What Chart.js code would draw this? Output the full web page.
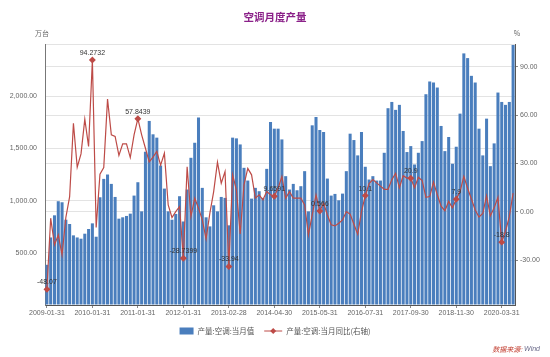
<!DOCTYPE html>
<html>
<head>
<meta charset="utf-8">
<script src="https://cdn.jsdelivr.net/npm/chart.js@4/dist/chart.umd.min.js"></script>
<style>
html,body{margin:0;padding:0;background:#fff;}
#wrap{width:550px;height:357px;position:relative;}
</style>
</head>
<body>
<div id="wrap"><canvas id="c" width="550" height="357"></canvas></div>
<script>
// ---------------- DATA ----------------
const categories = [
 '2009-01-31','2009-02-28','2009-03-31','2009-04-30','2009-05-31','2009-06-30','2009-07-31','2009-08-31','2009-09-30','2009-10-31','2009-11-30','2009-12-31',
 '2010-01-31','2010-02-28','2010-03-31','2010-04-30','2010-05-31','2010-06-30','2010-07-31','2010-08-31','2010-09-30','2010-10-31','2010-11-30','2010-12-31',
 '2011-01-31','2011-02-28','2011-03-31','2011-04-30','2011-05-31','2011-06-30','2011-07-31','2011-08-31','2011-09-30','2011-10-31','2011-11-30','2011-12-31',
 '2012-01-31','2012-02-29','2012-03-31','2012-04-30','2012-05-31','2012-06-30','2012-07-31','2012-08-31','2012-09-30','2012-10-31','2012-11-30','2012-12-31',
 '2013-02-28','2013-03-31','2013-04-30','2013-05-31','2013-06-30','2013-07-31','2013-08-31','2013-09-30','2013-10-31','2013-11-30','2013-12-31',
 '2014-03-31','2014-04-30','2014-05-31','2014-06-30','2014-07-31','2014-08-31','2014-09-30','2014-10-31','2014-11-30','2014-12-31',
 '2015-02-28','2015-03-31','2015-04-30','2015-05-31','2015-06-30','2015-07-31','2015-08-31','2015-09-30','2015-10-31','2015-11-30','2015-12-31',
 '2016-03-31','2016-04-30','2016-05-31','2016-06-30','2016-07-31','2016-08-31','2016-09-30','2016-10-31','2016-11-30','2016-12-31',
 '2017-03-31','2017-04-30','2017-05-31','2017-06-30','2017-07-31','2017-08-31','2017-09-30','2017-10-31','2017-11-30','2017-12-31',
 '2018-03-31','2018-04-30','2018-05-31','2018-06-30','2018-07-31','2018-08-31','2018-09-30','2018-10-31','2018-11-30','2018-12-31',
 '2019-03-31','2019-04-30','2019-05-31','2019-06-30','2019-07-31','2019-08-31','2019-09-30','2019-10-31','2019-11-30','2019-12-31',
 '2020-03-31','2020-04-30','2020-05-31','2020-06-30'
];

const tickLabels = ['2009-01-31','2010-01-31','2011-01-31','2012-01-31','2013-02-28','2014-04-30',
                    '2015-05-31','2016-07-31','2017-09-30','2018-11-30','2020-03-31'];

// 产量:空调:当月值 (万台)
const monthlyOutput = [
 385,647,859,994,984,817,776,667,647,635,683,728,
 782,654,1032,1208,1250,1160,1035,827,840,853,875,1048,
 1176,897,1468,1763,1635,1603,1336,1115,897,817,872,1042,
 800,1106,1410,1554,1795,1122,840,753,955,897,1035,1026,
 763,1603,1596,1538,1314,1192,1019,1122,1090,1026,1304,
 1753,1689,1689,1586,1234,1106,1160,1099,1138,1282,
 897,1721,1801,1676,1657,1211,1048,1064,1003,1067,1282,
 1641,1580,1433,1657,1324,1202,1234,1192,1192,1458,
 1885,1945,1869,1917,1667,1465,1522,1346,1458,1570,
 2019,2141,2131,2083,1715,1474,1609,1353,1516,1833,
 2410,2365,2195,2131,1689,1433,1785,1330,1548,2035,
 1945,1917,1945,2490
];

// 产量:空调:当月同比 (%)
const yoyChange = [
 -48.07,-3.9,-20.5,-14.3,-26.7,-3.5,9.5,55,27.7,36,57.5,40.6,
 94.2732,-9.7,23.4,27.5,70,47.8,46.8,35,42.2,42.2,33.7,47.8,
 57.8439,47.8,39.5,31,34,37.5,29,36.4,4.3,-3.5,0.2,3.3,
 -28.7399,28,-2.9,8.5,2.3,-5,-16.8,-0.8,12.6,30.8,17.8,25,
 -33.94,23,13.5,-13.7,16.8,27,23,8.5,10.6,7.5,12.6,
 10.6,9.6591,14.7,22,8.5,12.6,8.5,8.5,8.5,4.3,
 -14.3,-1.9,10.6,0.566,5.4,-1.9,-8,-8.7,-7,-5,0.2,
 -1.4,-7.7,-13.9,0.2,10.1,17.5,20,18,16,14,
 14,20,24,15,22.5,21,20.9,15,21.5,19.5,
 9,9.5,18.5,10.6,3.5,0.7,6.5,2.5,7.9,12.6,
 22,14.7,8,1.2,-3.2,-1,10,-2.5,2.5,9,
 -18.8,-12,-3,11.6
];

const leftTicks = [0, 500, 1000, 1500, 2000, 2500];
const rightTicks = [-30, 0, 30, 60, 90];

const seriesNames = ['产量:空调:当月值', '产量:空调:当月同比(右轴)'];
const chartTitle = '空调月度产量';

// ---------------- STYLE ----------------
const BAR_COLOR = '#4A7EBD';
const LINE_COLOR = '#BD4B47';
const GRID = '#E3E3E3';
const TXT = '#666666';
const FONT = '"Liberation Sans","Noto Sans CJK SC",sans-serif';
const CJK = '"Noto Sans CJK SC","Liberation Sans",sans-serif';

const isTick = i => tickLabels.includes(categories[i]);

const decorPlugin = {
  id: 'decor',
  afterDatasetsDraw(chart) {
    const ctx = chart.ctx;
    const meta = chart.getDatasetMeta(1);
    ctx.save();
    ctx.font = '7px ' + FONT;
    ctx.fillStyle = '#333';
    ctx.textAlign = 'center';
    ctx.textBaseline = 'middle';
    meta.data.forEach((pt, i) => {
      if (!isTick(i)) return;
      ctx.fillText(String(yoyChange[i]), pt.x, pt.y - 7);
    });
    ctx.restore();
  },
  afterDraw(chart) {
    const ctx = chart.ctx;
    const ca = chart.chartArea;
    ctx.save();
    // title
    ctx.font = 'bold 10.5px ' + CJK;
    ctx.fillStyle = '#8B2189';
    ctx.textAlign = 'center';
    ctx.textBaseline = 'middle';
    ctx.fillText(chartTitle, 275, 17);
    // units
    ctx.font = '7px ' + CJK;
    ctx.fillStyle = TXT;
    ctx.fillText('万台', ca.left - 3, 33);
    ctx.fillText('%', ca.right + 2, 33);
    // legend
    const y = 331;
    ctx.font = '7.5px ' + CJK;
    const w1 = ctx.measureText(seriesNames[0]).width;
    const w2 = ctx.measureText(seriesNames[1]).width;
    const total = 14 + 4 + w1 + 10 + 18 + 4 + w2;
    let x = 275 - total / 2;
    ctx.fillStyle = BAR_COLOR;
    ctx.fillRect(x, y - 3.5, 14, 7);
    x += 18;
    ctx.fillStyle = '#555';
    ctx.textAlign = 'left';
    ctx.fillText(seriesNames[0], x, y);
    x += w1 + 10;
    ctx.strokeStyle = LINE_COLOR;
    ctx.lineWidth = 1;
    ctx.beginPath(); ctx.moveTo(x, y); ctx.lineTo(x + 18, y); ctx.stroke();
    ctx.fillStyle = LINE_COLOR;
    ctx.beginPath();
    ctx.moveTo(x + 9, y - 3); ctx.lineTo(x + 12, y); ctx.lineTo(x + 9, y + 3); ctx.lineTo(x + 6, y);
    ctx.closePath(); ctx.fill();
    x += 22;
    ctx.fillStyle = '#555';
    ctx.fillText(seriesNames[1], x, y);
    // source
    ctx.textAlign = 'right';
    ctx.font = 'italic 7px ' + FONT;
    const wWind = ctx.measureText('Wind').width;
    ctx.fillStyle = '#6B6B8A';
    ctx.fillText('Wind', 540, 349);
    ctx.font = 'italic 7px ' + CJK;
    ctx.fillStyle = '#C0392B';
    ctx.fillText('数据来源:', 540 - wWind - 2, 349);
    ctx.restore();
  }
};

new Chart(document.getElementById('c'), {
  type: 'bar',
  data: {
    labels: categories,
    datasets: [
      {
        type: 'bar',
        label: seriesNames[0],
        data: monthlyOutput,
        yAxisID: 'yL',
        backgroundColor: BAR_COLOR,
        borderWidth: 0,
        barPercentage: 0.8,
        categoryPercentage: 1.0,
        order: 2
      },
      {
        type: 'line',
        label: seriesNames[1],
        data: yoyChange,
        yAxisID: 'yR',
        borderColor: LINE_COLOR,
        backgroundColor: LINE_COLOR,
        borderWidth: 1.2,
        tension: 0,
        pointStyle: 'rectRot',
        pointRadius: ctx => isTick(ctx.dataIndex) ? 2.6 : 0,
        pointHoverRadius: 0,
        order: 1
      }
    ]
  },
  options: {
    responsive: false,
    devicePixelRatio: 1,
    animation: false,
    layout: { padding: { top: 44, left: 0, right: 0, bottom: 0 } },
    plugins: {
      legend: { display: false },
      tooltip: { enabled: false },
      title: { display: false }
    },
    scales: {
      x: {
        type: 'category',
        offset: true,
        grid: { offset: false, drawOnChartArea: false, drawTicks: true, tickLength: 3, tickColor: '#888' },
        border: { color: '#555' },
        ticks: {
          autoSkip: false, maxRotation: 0, minRotation: 0, padding: 1,
          font: { size: 7, family: FONT }, color: TXT,
          callback: function (v, i) { return isTick(i) ? categories[i] : null; }
        },
        afterFit: ax => { ax.height = 52; }
      },
      yL: {
        type: 'linear',
        position: 'left',
        min: 0, max: 2500,
        afterBuildTicks: ax => { ax.ticks = leftTicks.map(v => ({ value: v })); },
        ticks: {
          padding: 8,
          font: { size: 7, family: FONT }, color: TXT,
          callback: v => (v === 0 || v === 2500) ? '' :
            v.toLocaleString('en-US', { minimumFractionDigits: 2, maximumFractionDigits: 2 })
        },
        grid: { color: GRID, drawTicks: false },
        border: { color: '#777' },
        afterFit: ax => { ax.width = 45; }
      },
      yR: {
        type: 'linear',
        position: 'right',
        min: -57.8, max: 104.2,
        afterBuildTicks: ax => { ax.ticks = rightTicks.map(v => ({ value: v })); },
        ticks: {
          padding: 2,
          font: { size: 7, family: FONT }, color: TXT,
          callback: v => v.toFixed(2)
        },
        grid: { color: GRID, drawTicks: true, tickLength: 3, tickColor: '#888' },
        border: { color: '#555' },
        afterFit: ax => { ax.width = 35; }
      }
    }
  },
  plugins: [decorPlugin]
});
</script>
</body>
</html>
